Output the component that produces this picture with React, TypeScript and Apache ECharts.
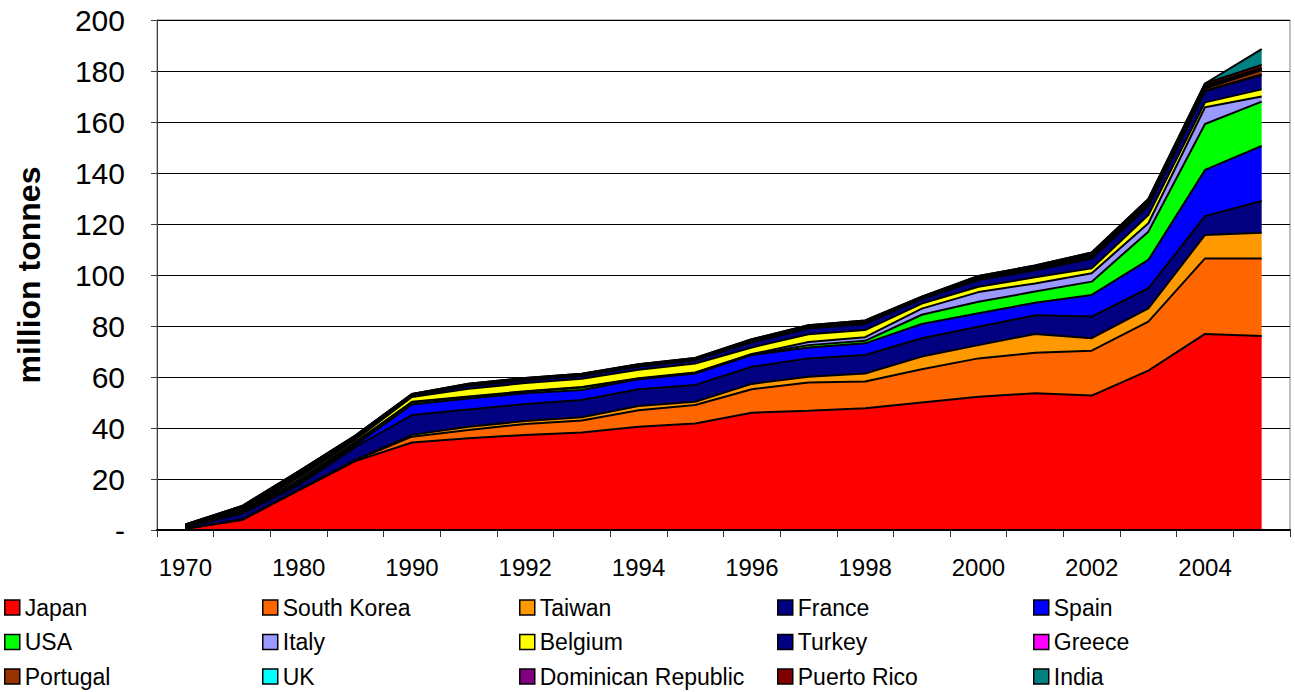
import React, { useEffect, useRef } from 'react';
import * as echarts from 'echarts';

const years = ['1970', '1975', '1980', '1985', '1990', '1991', '1992', '1993', '1994', '1995', '1996', '1997', '1998', '1999', '2000', '2001', '2002', '2003', '2004', '2005'];

const japan = [0.5, 3.9, 15.5, 27, 34.3, 36, 37.3, 38.2, 40.5, 41.8, 46, 46.8, 47.7, 50, 52.3, 53.6, 52.7, 62.5, 76.9, 76.1];
const southKorea = [0, 0.2, 0.2, 0.3, 2.3, 3.2, 4.3, 4.7, 6.5, 7.2, 9.2, 11, 10.5, 13, 15, 15.9, 17.6, 19.2, 29.6, 30.4];
const taiwan = [0, 0.1, 0.1, 0.2, 0.7, 1.3, 1.1, 1.3, 1.6, 1.3, 2.1, 2.3, 3.2, 5, 5.2, 7.4, 4.9, 5.2, 9.2, 10.1];
const france = [0.7, 2.2, 1.8, 5, 7.8, 6.8, 6.7, 6.8, 6.6, 6.6, 6.7, 7.2, 7.2, 7.2, 7.2, 7.3, 8.5, 7.9, 7.4, 12.4];
const spain = [0.1, 0.5, 0.6, 0.8, 4.1, 4.3, 4.2, 3.9, 3.9, 4.5, 4.6, 4.3, 4.6, 5.6, 5.3, 4.9, 8.5, 11.1, 18.1, 21.6];
const usa = [0.1, 0.3, 0.7, 0.7, 0.8, 0.6, 0.6, 1.0, 0.2, 0.2, 0.2, 0.9, 1.0, 3.6, 4.5, 4.4, 5.2, 11.1, 18, 17.4];
const italy = [0.1, 0.5, 0.8, 0.5, 0.3, 0.2, 0.2, 0.2, 0.2, 0.2, 0.2, 1.2, 1.4, 2.4, 3.8, 3.2, 3.3, 3.3, 6.6, 2.0];
const belgium = [0.2, 0.4, 0.8, 0.8, 1.9, 3, 3.2, 3.2, 3.3, 3.5, 2.6, 3.1, 2.8, 2.0, 2.1, 2.4, 1.9, 3.2, 1.9, 2.8];
const turkey = [0.1, 0.4, 0.8, 0.6, 0.6, 1.2, 1.1, 1.2, 1.3, 1.3, 2.0, 2.2, 2.4, 1.8, 2.6, 2.8, 3.9, 3.5, 4.3, 5.6];
const greece = [0.1, 0.2, 0.4, 0.3, 0.1, 0.1, 0.1, 0.1, 0.1, 0.1, 0.2, 0.2, 0.2, 0.1, 0.2, 0.3, 0.3, 0.3, 0.3, 0.2];
const portugal = [0.1, 0.2, 0.5, 0.3, 0.1, 0.2, 0.2, 0.2, 0.2, 0.2, 0.3, 0.3, 0.3, 0.2, 0.4, 0.4, 0.5, 0.6, 0.8, 1.8];
const uk = [0.1, 0.2, 0.3, 0.2, 0.1, 0.1, 0.2, 0.1, 0.2, 0.2, 0.2, 0.3, 0.3, 0.2, 0.3, 0.3, 0.4, 0.5, 0.5, 0.2];
const dominicanRepublic = [0, 0.1, 0.2, 0.1, 0.1, 0.2, 0.2, 0.2, 0.2, 0.2, 0.2, 0.2, 0.3, 0.2, 0.3, 0.4, 0.5, 0.6, 0.6, 0.6];
const puertoRico = [0.1, 0.2, 0.3, 0.2, 0.1, 0.2, 0.2, 0.2, 0.2, 0.2, 0.3, 0.3, 0.3, 0.2, 0.4, 0.4, 0.6, 0.8, 0.9, 1.2];
const india = [0, 0, 0, 0, 0, 0, 0, 0, 0, 0, 0, 0, 0, 0, 0, 0, 0, 0, 0, 6.2];

const seriesNames = ['Japan', 'South Korea', 'Taiwan', 'France', 'Spain', 'USA', 'Italy', 'Belgium', 'Turkey', 'Greece', 'Portugal', 'UK', 'Dominican Republic', 'Puerto Rico', 'India'];
const seriesData = [japan, southKorea, taiwan, france, spain, usa, italy, belgium, turkey, greece, portugal, uk, dominicanRepublic, puertoRico, india];
const seriesColors = ['#FF0000', '#FF6600', '#FF9900', '#000080', '#0000FF', '#00FF00', '#9999FF', '#FFFF00', '#000080', '#FF00FF', '#993300', '#00FFFF', '#800080', '#800000', '#008080'];

const legendColumns = [
  ['Japan', 'USA', 'Portugal'],
  ['South Korea', 'Italy', 'UK'],
  ['Taiwan', 'Belgium', 'Dominican Republic'],
  ['France', 'Turkey', 'Puerto Rico'],
  ['Spain', 'Greece', 'India'],
];
const legendLefts = [4, 262, 519, 777, 1033];

const FONT = 'Arial, "Liberation Sans", sans-serif';

export default function App() {
  const ref = useRef<HTMLDivElement>(null);
  useEffect(() => {
    if (!ref.current) return;
    const chart = echarts.init(ref.current, null, { renderer: 'svg' });
    chart.setOption({
      animation: false,
      backgroundColor: '#fff',
      textStyle: { fontFamily: FONT },
      grid: {
        left: 157,
        right: 5,
        top: 20,
        bottom: 162,
        show: true,
        borderColor: '#808080',
        borderWidth: 1,
        backgroundColor: 'transparent',
      },
      legend: legendColumns.map((col, i) => ({
        data: col,
        orient: 'vertical',
        left: legendLefts[i],
        top: 596,
        height: 130,
        padding: 0,
        icon: 'rect',
        itemWidth: 15,
        itemHeight: 15,
        itemGap: 11.5,
        itemStyle: { borderColor: '#000', borderWidth: 1.5 },
        textStyle: { fontSize: 23, lineHeight: 23, color: '#000', fontFamily: FONT, padding: [0, 0, 0, 0] },
        selectedMode: false,
      })),
      xAxis: {
        type: 'category',
        data: years,
        boundaryGap: true,
        axisLine: { show: true, lineStyle: { color: '#000', width: 2 } },
        axisTick: { show: true, interval: 0, length: 7, lineStyle: { color: '#333' } },
        axisLabel: { interval: 1, fontSize: 24, color: '#000', fontFamily: FONT, margin: 25 },
        splitLine: { show: false },
        z: 10,
      },
      yAxis: {
        type: 'value',
        min: 0,
        max: 200,
        interval: 20,
        name: 'million tonnes',
        nameLocation: 'middle',
        nameGap: 112,
        nameTextStyle: { fontSize: 32, fontWeight: 'bold', color: '#000', fontFamily: FONT },
        axisLine: { show: true, lineStyle: { color: '#404040', width: 1 } },
        axisTick: { show: true, length: 6, lineStyle: { color: '#404040' } },
        axisLabel: {
          fontSize: 30,
          color: '#000',
          fontFamily: FONT,
          margin: 32,
          formatter: (v: number) => (v === 0 ? '-' : String(v)),
        },
        splitLine: { show: true, lineStyle: { color: '#000', width: 1 } },
      },
      series: seriesNames.map((name, i) => ({
        name,
        type: 'line',
        stack: 'total',
        data: seriesData[i],
        showSymbol: false,
        symbol: 'none',
        color: seriesColors[i],
        itemStyle: { color: seriesColors[i] },
        lineStyle: { color: '#000', width: 2 },
        areaStyle: { color: seriesColors[i], opacity: 1 },
        emphasis: { disabled: true },
      })),
    });
    return () => chart.dispose();
  }, []);
  return <div ref={ref} style={{ position: 'absolute', left: 0, top: 0, width: 1295, height: 692 }} />;
}
